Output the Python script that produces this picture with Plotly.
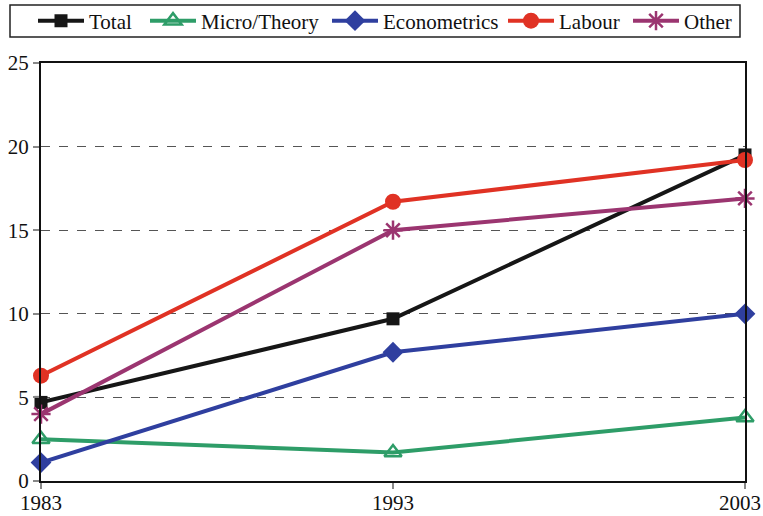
import plotly.graph_objects as go

years = [1983, 1993, 2003]
year_labels = ["1983", "1993", "2003"]
total = [4.7, 9.7, 19.5]
micro = [2.5, 1.7, 3.8]
econ = [1.1, 7.7, 10.0]
labour = [6.3, 16.7, 19.2]
other = [4.0, 15.0, 16.9]

series = [
    ("Total", total, "#161616", "square", 13),
    ("Micro/Theory", micro, "#2e9d68", "triangle-up-open", 15),
    ("Econometrics", econ, "#2f3f9f", "diamond", 16),
    ("Labour", labour, "#e03224", "circle", 16),
    ("Other", other, "#9b3570", "asterisk-open", 16),
]

W, H = 763, 516
ML, MR, MT, MB = 41, 18, 63, 35
PW = W - ML - MR
PH = H - MT - MB

def px_x(px):
    return (px - ML) / PW

def px_y(py):
    return (H - MB - py) / PH

legend_starts = [33, 145, 327, 503, 628]

font_family = "Liberation Serif, DejaVu Serif, serif"

fig = go.Figure()
layout_legends = {}
for i, (name, vals, color, sym, size) in enumerate(series):
    lg = "legend" if i == 0 else f"legend{i+1}"
    fig.add_trace(go.Scatter(
        x=years, y=vals, name=name, mode="lines+markers",
        line=dict(color=color, width=4),
        marker=dict(symbol=sym, size=size, color=color,
                    line=dict(color=color, width=2.5 if "open" in sym else 0)),
        cliponaxis=False, legend=lg,
    ))
    layout_legends[lg] = dict(
        orientation="h", x=px_x(legend_starts[i]), xanchor="left",
        y=px_y(21), yanchor="middle", bgcolor="rgba(0,0,0,0)", borderwidth=0,
        font=dict(family=font_family, size=21, color="#111"),
        itemwidth=46,
    )

fig.add_shape(type="rect", xref="paper", yref="paper",
              x0=px_x(10), x1=px_x(740), y0=px_y(37), y1=px_y(5),
              line=dict(color="#222", width=1.5), fillcolor="rgba(0,0,0,0)")

# x tick labels as annotations (the last one sits at the page edge)
for yr, lab in zip(years, year_labels):
    if yr == years[-1]:
        fig.add_annotation(x=yr, xref="x", y=px_y(503), yref="paper",
                           text=lab, showarrow=False, xanchor="right", xshift=18,
                           yanchor="middle", font=dict(family=font_family, size=21, color="#111"))
    else:
        fig.add_annotation(x=yr, xref="x", y=px_y(503), yref="paper",
                           text=lab, showarrow=False, xanchor="center",
                           yanchor="middle", font=dict(family=font_family, size=21, color="#111"))

fig.update_layout(
    width=W, height=H,
    margin=dict(l=ML, r=MR, t=MT, b=MB, autoexpand=False),
    paper_bgcolor="white", plot_bgcolor="white",
    font=dict(family=font_family, size=21, color="#111"),
    showlegend=True,
    xaxis=dict(
        range=[1983, 2003], tickvals=years, showticklabels=False,
        showgrid=False, zeroline=False, showline=True, linecolor="#111", linewidth=2,
        mirror=True, ticks="outside", ticklen=6, tickcolor="#888", tickwidth=1.5,
    ),
    yaxis=dict(
        range=[0, 25], tickvals=[0, 5, 10, 15, 20, 25],
        showgrid=True, gridcolor="#555", griddash="dash", gridwidth=1,
        zeroline=False, showline=True, linecolor="#111", linewidth=2, mirror=True,
        ticks="outside", ticklen=6, tickcolor="#888", tickwidth=1.5,
        tickfont=dict(family=font_family, size=21),
    ),
    **layout_legends,
)
fig.write_html("out.html", config={"displayModeBar": False},
               post_script="document.body.style.margin='0';document.body.style.overflow='hidden';")
